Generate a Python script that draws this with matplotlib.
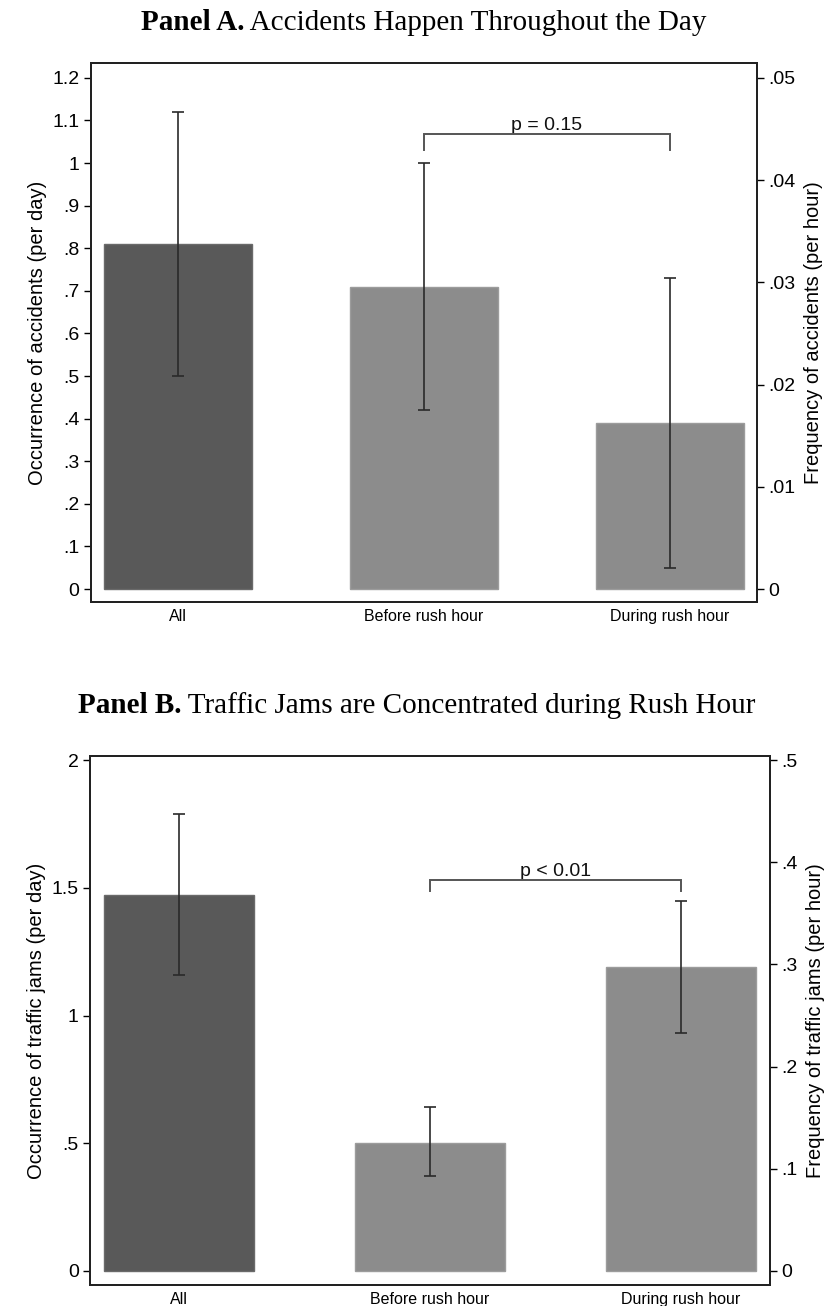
import matplotlib
matplotlib.use("Agg")
import matplotlib.pyplot as plt
from matplotlib.ticker import FixedLocator, FuncFormatter

# ---------------- data ----------------
categories = ["All", "Before rush hour", "During rush hour"]

acc_mean = [0.81, 0.71, 0.39]
acc_lo = [0.50, 0.42, 0.05]
acc_hi = [1.12, 1.00, 0.73]
acc_p_text = "p = 0.15"
acc_bracket_y = 1.068
acc_bracket_drop = 1.030

jam_mean = [1.47, 0.50, 1.19]
jam_lo = [1.16, 0.37, 0.93]
jam_hi = [1.79, 0.64, 1.45]
jam_p_text = "p < 0.01"
jam_bracket_y = 1.529
jam_bracket_drop = 1.488

acc_left_ticks = [0, .1, .2, .3, .4, .5, .6, .7, .8, .9, 1, 1.1, 1.2]
acc_right_ticks = [0, .01, .02, .03, .04, .05]
jam_left_ticks = [0, .5, 1, 1.5, 2]
jam_right_ticks = [0, .1, .2, .3, .4, .5]

acc_ratio = 24.0   # per day -> per hour
jam_ratio = 4.0

titles = [("Panel A.", " Accidents Happen Throughout the Day"),
          ("Panel B.", " Traffic Jams are Concentrated during Rush Hour")]

# ---------------- style ----------------
SANS = ["Liberation Sans", "DejaVu Sans"]
SERIF = ["Liberation Serif", "DejaVu Serif"]
bar_colors = ["#595959", "#8c8c8c", "#8c8c8c"]
edge_colors = ["#6a6a6a", "#9c9c9c", "#9c9c9c"]
TICK_FS = 14
LAB_FS = 14.5

fig = plt.figure(figsize=(8.33, 13.06), dpi=100)


def fmt(v, pos=None):
    if abs(v) < 1e-12:
        return "0"
    s = ("%.2f" % v).rstrip("0").rstrip(".")
    if s.startswith("0."):
        s = s[1:]
    return s


def panel(rect, mean, lo, hi, ylim, lticks, rticks, ratio, ylab, rlab,
          ptext, by, bdrop):
    ax = fig.add_axes(rect)
    x = list(range(len(categories)))
    ax.bar(x, mean, width=0.6, color=bar_colors, edgecolor=edge_colors,
           linewidth=1.0, zorder=2)
    yerr = [[m - l for m, l in zip(mean, lo)], [h - m for m, h in zip(mean, hi)]]
    ax.errorbar(x, mean, yerr=yerr, fmt="none", ecolor="#2a2a2a",
                elinewidth=1.2, capsize=4, capthick=1.2, zorder=3)
    ax.set_xlim(-0.355, 2.355)
    ax.set_ylim(*ylim)
    ax.set_xticks(x)
    ax.set_xticklabels(categories, fontsize=11.5, family=SANS)
    ax.tick_params(axis="x", length=0, pad=5)
    ax.yaxis.set_major_locator(FixedLocator(lticks))
    ax.yaxis.set_major_formatter(FuncFormatter(fmt))
    ax.tick_params(axis="y", length=5, width=1.0, pad=3, labelsize=TICK_FS,
                   direction="out")
    for lab in ax.get_yticklabels():
        lab.set_family(SANS)
    ax.set_ylabel(ylab, fontsize=LAB_FS, family=SANS, labelpad=4)
    for sp in ax.spines.values():
        sp.set_linewidth(1.4)
        sp.set_color("#222222")

    # bracket
    ax.plot([1, 1, 2, 2], [bdrop, by, by, bdrop], color="#555555",
            lw=1.4, zorder=4, solid_joinstyle="miter")
    ax.text(1.5, by, ptext, ha="center", va="bottom", fontsize=14,
            family=SANS, color="#111111")

    ax2 = ax.twinx()
    ax2.set_ylim(ylim[0] / ratio, ylim[1] / ratio)
    ax2.yaxis.set_major_locator(FixedLocator(rticks))
    ax2.yaxis.set_major_formatter(FuncFormatter(fmt))
    ax2.tick_params(axis="y", length=5, width=1.0, pad=3, labelsize=TICK_FS,
                    direction="out")
    for lab in ax2.get_yticklabels():
        lab.set_family(SANS)
    ax2.set_ylabel(rlab, fontsize=LAB_FS, family=SANS, labelpad=6)
    for sp in ax2.spines.values():
        sp.set_linewidth(1.4)
        sp.set_color("#222222")
    return ax


axA = panel([0.1089, 0.539, 0.7999, 0.4128], acc_mean, acc_lo, acc_hi,
            (-0.0305, 1.235), acc_left_ticks, acc_right_ticks, acc_ratio,
            "Occurrence of accidents (per day)",
            "Frequency of accidents (per hour)",
            acc_p_text, acc_bracket_y, acc_bracket_drop)

axB = panel([0.108, 0.0161, 0.8164, 0.405], jam_mean, jam_lo, jam_hi,
            (-0.055, 2.016), jam_left_ticks, jam_right_ticks, jam_ratio,
            "Occurrence of traffic jams (per day)",
            "Frequency of traffic jams (per hour)",
            jam_p_text, jam_bracket_y, jam_bracket_drop)


def title(ybase, parts, xcen):
    bold, rest = parts
    t1 = fig.text(0, ybase, bold, fontsize=21, fontweight="bold", family=SERIF,
                  va="baseline", ha="left")
    t2 = fig.text(0, ybase, rest, fontsize=21, family=SERIF, va="baseline",
                  ha="left")
    fig.canvas.draw()
    r = fig.canvas.get_renderer()
    w1 = t1.get_window_extent(r).width / fig.bbox.width
    w2 = t2.get_window_extent(r).width / fig.bbox.width
    x0 = xcen - (w1 + w2) / 2
    t1.set_x(x0)
    t2.set_x(x0 + w1)


title(1 - 30 / 1306, titles[0], 0.509)
title(1 - 713 / 1306, titles[1], 0.5)

fig.savefig("out.png", dpi=100)
